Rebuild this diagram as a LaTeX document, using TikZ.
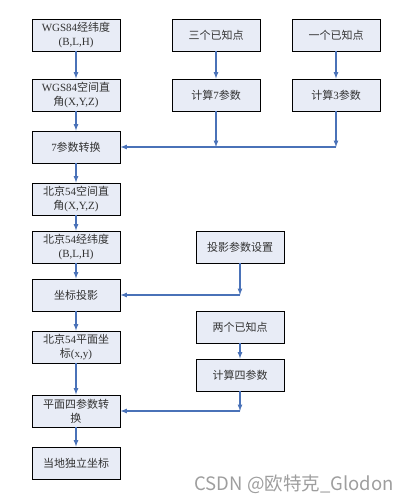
\documentclass[tikz,border=0pt]{standalone}
\usepackage{fontspec}
\setmainfont{Liberation Serif}
\newfontfamily\cjk{Noto Sans CJK SC}
\newcommand{\zh}[1]{{\cjk #1}}
\definecolor{boxfill}{HTML}{E8ECF6}
\definecolor{flowblue}{HTML}{4A72B8}
\tikzset{
  flowbox/.style={draw=black, line width=0.9pt, fill=boxfill,
    minimum width=88pt, minimum height=32pt, inner sep=0pt, align=center,
    font=\fontsize{11}{14}\selectfont, text=black!80},
  flowline/.style={draw=flowblue, line width=1.2pt, ->}
}

\begin{document}
\begin{tikzpicture}[>=latex, x=1pt, y=-1pt]
  \useasboundingbox (0,0) rectangle (411,504);
  % Main chain on the left
  \node[flowbox] (wgsblh) at (76,35) {WGS84\zh{经纬度}\\(B,L,H)};
  \node[flowbox] (wgsxyz) at (76,95) {WGS84\zh{空间直}\\\zh{角}(X,Y,Z)};
  \node[flowbox] (seven) at (76,147) {7\zh{参数转换}};
  \node[flowbox] (bjxyz) at (76,199) {\zh{北京}54\zh{空间直}\\\zh{角}(X,Y,Z)};
  \node[flowbox] (bjblh) at (76,247) {\zh{北京}54\zh{经纬度}\\(B,L,H)};
  \node[flowbox] (proj) at (76,295) {\zh{坐标投影}};
  \node[flowbox] (bjxy) at (76,347) {\zh{北京}54\zh{平面坐}\\\zh{标}(x,y)};
  \node[flowbox] (four) at (76,411) {\zh{平面四参数转}\\\zh{换}};
  \node[flowbox] (local) at (76,463) {\zh{当地独立坐标}};
  % Parameter sources
  \node[flowbox] (three) at (216,35) {\zh{三个已知点}};
  \node[flowbox] (calcseven) at (216,95) {\zh{计算}7\zh{参数}};
  \node[flowbox] (one) at (336,35) {\zh{一个已知点}};
  \node[flowbox] (calcthree) at (336,95) {\zh{计算}3\zh{参数}};
  \node[flowbox] (projset) at (240,247) {\zh{投影参数设置}};
  \node[flowbox] (two) at (240,327) {\zh{两个已知点}};
  \node[flowbox] (calcfour) at (240,375) {\zh{计算四参数}};
  % Arrows down the main chain
  \draw[flowline] (wgsblh) -- (wgsxyz);
  \draw[flowline] (wgsxyz) -- (seven);
  \draw[flowline] (seven) -- (bjxyz);
  \draw[flowline] (bjxyz) -- (bjblh);
  \draw[flowline] (bjblh) -- (proj);
  \draw[flowline] (proj) -- (bjxy);
  \draw[flowline] (bjxy) -- (four);
  \draw[flowline] (four) -- (local);
  % Seven and three parameters
  \draw[flowline] (three) -- (calcseven);
  \draw[flowline] (one) -- (calcthree);
  \coordinate (j7) at (calcseven |- seven.east);
  \coordinate (j3) at (calcthree |- seven.east);
  \draw[flowline] (calcseven) -- (j7);
  \draw[flowline] (calcthree) -- (j3);
  \draw[flowline] (j3) -- (seven.east);
  % Projection settings
  \coordinate (jp) at (projset |- proj.east);
  \draw[flowline] (projset) -- (jp);
  \draw[flowline] (jp) -- (proj.east);
  % Four parameters
  \draw[flowline] (two) -- (calcfour);
  \coordinate (j4) at (calcfour |- four.east);
  \draw[flowline] (calcfour) -- (j4);
  \draw[flowline] (j4) -- (four.east);
  % Watermark
  \node[text=black!38, font=\cjk\fontsize{18.5}{20}\selectfont] (mark) at (294,484) {CSDN @欧特克\_Glodon};
\end{tikzpicture}
\end{document}
